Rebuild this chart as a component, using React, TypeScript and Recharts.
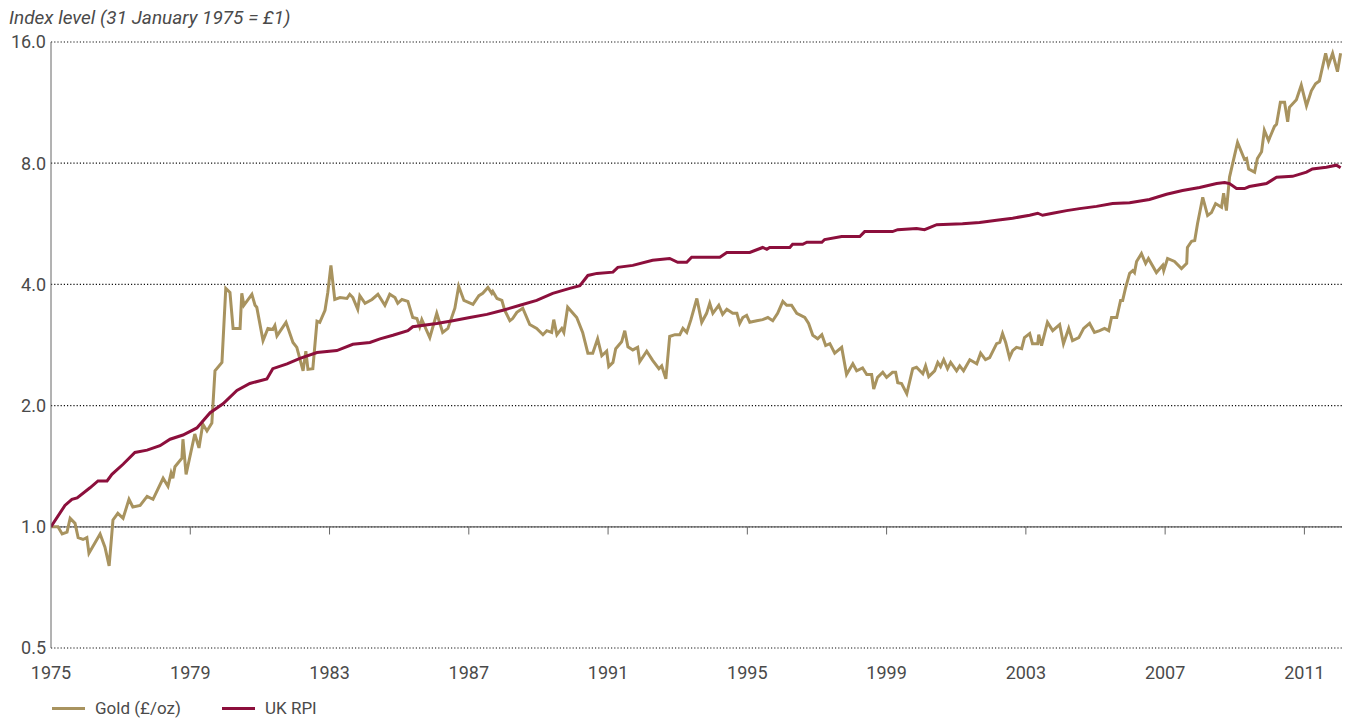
import React from "react";
import {
  LineChart,
  Line,
  XAxis,
  YAxis,
  CartesianGrid,
  ReferenceLine,
} from "recharts";

// Gold price index (£/oz)
const goldYears = [
  1975.0, 1975.2, 1975.32, 1975.46, 1975.55, 1975.69, 1975.78, 1975.92, 1976.03, 1976.09,
  1976.41, 1976.55, 1976.67, 1976.78, 1976.92, 1977.07, 1977.24, 1977.35, 1977.56, 1977.76,
  1977.93, 1978.22, 1978.36, 1978.45, 1978.5, 1978.56, 1978.76, 1978.79, 1978.88, 1979.13,
  1979.25, 1979.36, 1979.48, 1979.62, 1979.71, 1979.91, 1980.02, 1980.14, 1980.23, 1980.43,
  1980.48, 1980.54, 1980.77, 1980.86, 1980.91, 1981.09, 1981.23, 1981.37, 1981.43, 1981.49,
  1981.75, 1981.95, 1982.06, 1982.24, 1982.32, 1982.38, 1982.52, 1982.64, 1982.72, 1982.87,
  1982.95, 1983.04, 1983.15, 1983.3, 1983.5, 1983.58, 1983.67, 1983.81, 1983.87, 1984.02,
  1984.22, 1984.39, 1984.59, 1984.73, 1984.88, 1984.96, 1985.08, 1985.25, 1985.39, 1985.51,
  1985.59, 1985.65, 1985.88, 1986.08, 1986.25, 1986.4, 1986.6, 1986.71, 1986.86, 1987.12,
  1987.29, 1987.4, 1987.55, 1987.66, 1987.69, 1987.81, 1987.95, 1988.03, 1988.18, 1988.26,
  1988.38, 1988.55, 1988.75, 1988.95, 1989.13, 1989.24, 1989.38, 1989.44, 1989.53, 1989.67,
  1989.73, 1989.84, 1990.1, 1990.27, 1990.42, 1990.56, 1990.7, 1990.82, 1990.96, 1991.02,
  1991.14, 1991.22, 1991.39, 1991.48, 1991.57, 1991.71, 1991.85, 1991.91, 1992.11, 1992.28,
  1992.46, 1992.54, 1992.66, 1992.77, 1992.92, 1993.06, 1993.15, 1993.26, 1993.38, 1993.55,
  1993.69, 1993.83, 1993.92, 1994.01, 1994.18, 1994.29, 1994.41, 1994.58, 1994.7, 1994.78,
  1994.87, 1994.98, 1995.07, 1995.27, 1995.44, 1995.59, 1995.73, 1995.87, 1996.02, 1996.13,
  1996.27, 1996.42, 1996.65, 1996.76, 1996.88, 1997.02, 1997.14, 1997.25, 1997.37, 1997.51,
  1997.71, 1997.85, 1998.03, 1998.14, 1998.31, 1998.43, 1998.57, 1998.63, 1998.74, 1998.89,
  1999.0, 1999.17, 1999.26, 1999.32, 1999.43, 1999.58, 1999.75, 1999.86, 2000.04, 2000.12,
  2000.21, 2000.38, 2000.47, 2000.55, 2000.64, 2000.75, 2000.84, 2001.01, 2001.1, 2001.21,
  2001.39, 2001.59, 2001.7, 2001.84, 2001.96, 2002.16, 2002.25, 2002.33, 2002.42, 2002.53,
  2002.62, 2002.73, 2002.88, 2002.96, 2003.11, 2003.19, 2003.34, 2003.37, 2003.45, 2003.62,
  2003.77, 2003.97, 2004.08, 2004.23, 2004.34, 2004.52, 2004.66, 2004.83, 2004.97, 2005.12,
  2005.26, 2005.38, 2005.46, 2005.61, 2005.72, 2005.78, 2005.86, 2005.98, 2006.07, 2006.12,
  2006.18, 2006.32, 2006.44, 2006.52, 2006.75, 2006.93, 2006.96, 2007.07, 2007.27, 2007.47,
  2007.62, 2007.64, 2007.76, 2007.85, 2007.93, 2008.08, 2008.22, 2008.33, 2008.45, 2008.62,
  2008.68, 2008.76, 2008.85, 2009.08, 2009.28, 2009.34, 2009.4, 2009.57, 2009.65, 2009.77,
  2009.85, 2009.97, 2010.14, 2010.2, 2010.31, 2010.43, 2010.52, 2010.57, 2010.77, 2010.91,
  2011.06, 2011.2, 2011.32, 2011.43, 2011.61, 2011.69, 2011.81, 2011.95, 2012.04,
];
const goldValues = [
  1.0, 1.0, 0.96, 0.97, 1.05, 1.02, 0.94, 0.93, 0.94, 0.86,
  0.96, 0.89, 0.8, 1.04, 1.08, 1.05, 1.17, 1.12, 1.13, 1.19,
  1.17, 1.32, 1.26, 1.36, 1.32, 1.41, 1.48, 1.65, 1.35, 1.7,
  1.57, 1.8, 1.73, 1.81, 2.44, 2.56, 3.91, 3.82, 3.11, 3.11,
  3.8, 3.55, 3.78, 3.55, 3.51, 2.9, 3.11, 3.09, 3.16, 2.98,
  3.22, 2.87, 2.79, 2.44, 2.73, 2.46, 2.47, 3.24, 3.22, 3.45,
  3.82, 4.46, 3.67, 3.71, 3.69, 3.78, 3.71, 3.47, 3.75, 3.59,
  3.67, 3.78, 3.55, 3.78, 3.71, 3.59, 3.67, 3.63, 3.31, 3.29,
  3.14, 3.27, 2.95, 3.39, 3.04, 3.11, 3.49, 3.96, 3.65, 3.57,
  3.75, 3.8, 3.93, 3.8, 3.84, 3.69, 3.65, 3.45, 3.25, 3.29,
  3.41, 3.49, 3.18, 3.11, 3.0, 3.07, 3.04, 3.27, 3.0, 3.11,
  3.04, 3.51, 3.31, 3.04, 2.7, 2.7, 2.93, 2.66, 2.73, 2.5,
  2.56, 2.77, 2.88, 3.07, 2.8, 2.75, 2.79, 2.57, 2.73, 2.59,
  2.47, 2.51, 2.33, 2.97, 3.0, 3.0, 3.11, 3.04, 3.27, 3.69,
  3.22, 3.39, 3.59, 3.39, 3.55, 3.37, 3.47, 3.39, 3.39, 3.2,
  3.31, 3.35, 3.22, 3.25, 3.27, 3.31, 3.25, 3.39, 3.63, 3.55,
  3.55, 3.39, 3.31, 3.2, 2.99, 2.93, 3.0, 2.82, 2.85, 2.7,
  2.79, 2.39, 2.54, 2.44, 2.48, 2.39, 2.39, 2.2, 2.35, 2.42,
  2.35, 2.42, 2.42, 2.28, 2.27, 2.14, 2.47, 2.49, 2.4, 2.51,
  2.36, 2.44, 2.56, 2.5, 2.6, 2.47, 2.56, 2.44, 2.51, 2.44,
  2.6, 2.54, 2.7, 2.6, 2.63, 2.85, 2.87, 3.02, 2.87, 2.63,
  2.74, 2.79, 2.77, 2.95, 3.02, 2.85, 2.85, 3.0, 2.82, 3.22,
  3.07, 3.18, 2.85, 3.11, 2.9, 2.95, 3.11, 3.2, 3.04, 3.07,
  3.11, 3.07, 3.31, 3.31, 3.65, 3.65, 3.91, 4.26, 4.33, 4.28,
  4.56, 4.77, 4.51, 4.64, 4.28, 4.46, 4.33, 4.64, 4.56, 4.38,
  4.51, 4.94, 5.12, 5.14, 5.66, 6.58, 5.93, 6.03, 6.35, 6.22,
  6.74, 6.1, 7.39, 9.01, 8.17, 8.22, 7.74, 7.6, 8.22, 8.54,
  9.66, 9.11, 9.87, 9.99, 11.34, 11.34, 10.14, 11.01, 11.5, 12.5,
  11.1, 12.1, 12.6, 12.8, 15.0, 14.0, 15.0, 13.5, 15.0,
];

// UK retail prices index
const rpiYears = [
  1975.0, 1975.4, 1975.6, 1975.75, 1976.12, 1976.35, 1976.61, 1976.75, 1977.07, 1977.41,
  1977.76, 1978.13, 1978.42, 1978.79, 1979.19, 1979.57, 1979.94, 1980.34, 1980.71, 1981.2,
  1981.37, 1981.78, 1982.15, 1982.64, 1983.21, 1983.67, 1984.16, 1984.45, 1984.82, 1985.25,
  1985.39, 1986.08, 1986.54, 1987.03, 1987.52, 1987.98, 1988.47, 1988.95, 1989.41, 1989.9,
  1990.19, 1990.42, 1990.68, 1991.14, 1991.28, 1991.71, 1992.28, 1992.77, 1993.0, 1993.26,
  1993.4, 1993.63, 1994.21, 1994.41, 1994.58, 1995.07, 1995.44, 1995.56, 1995.64, 1996.22,
  1996.3, 1996.59, 1996.71, 1997.14, 1997.22, 1997.71, 1998.23, 1998.37, 1999.17, 1999.32,
  1999.86, 2000.09, 2000.44, 2001.18, 2001.67, 2002.16, 2002.62, 2003.11, 2003.34, 2003.48,
  2003.77, 2004.17, 2004.54, 2005.03, 2005.49, 2005.98, 2006.55, 2007.04, 2007.5, 2007.99,
  2008.48, 2008.71, 2008.85, 2009.05, 2009.28, 2009.42, 2009.91, 2010.2, 2010.66, 2011.06,
  2011.23, 2011.63, 2011.92, 2012.04,
];
const rpiValues = [
  1.0, 1.13, 1.17, 1.18, 1.25, 1.3, 1.3, 1.35, 1.43, 1.53,
  1.55, 1.59, 1.65, 1.69, 1.76, 1.92, 2.02, 2.18, 2.27, 2.33,
  2.47, 2.54, 2.62, 2.71, 2.74, 2.84, 2.87, 2.93, 2.99, 3.07,
  3.14, 3.2, 3.25, 3.31, 3.37, 3.45, 3.55, 3.65, 3.8, 3.91,
  3.97, 4.21, 4.26, 4.29, 4.41, 4.46, 4.59, 4.64, 4.54, 4.54,
  4.67, 4.67, 4.67, 4.8, 4.8, 4.8, 4.94, 4.89, 4.94, 4.94,
  5.03, 5.03, 5.09, 5.09, 5.17, 5.26, 5.26, 5.41, 5.41, 5.47,
  5.51, 5.47, 5.63, 5.66, 5.7, 5.77, 5.84, 5.94, 6.01, 5.94,
  6.01, 6.1, 6.17, 6.25, 6.35, 6.38, 6.5, 6.7, 6.84, 6.96,
  7.12, 7.16, 7.12, 6.92, 6.92, 7.0, 7.12, 7.38, 7.42, 7.6,
  7.74, 7.82, 7.91, 7.79,
];

const yearTicks = [1975, 1979, 1983, 1987, 1991, 1995, 1999, 2003, 2007, 2011];
const valueTicks = [0.5, 1, 2, 4, 8, 16];

const GOLD = "#a8935f";
const RPI = "#8c0f3c";
const TEXT = "#4a4a4a";
const FONT = "Roboto, 'Liberation Sans', Arial, sans-serif";

const goldData = goldYears.map((t, i) => ({ t, v: goldValues[i] }));
const rpiData = rpiYears.map((t, i) => ({ t, v: rpiValues[i] }));

function LegendItem({ color, label, width }: { color: string; label: string; width: number }) {
  return (
    <div style={{ display: "flex", alignItems: "center", width }}>
      <div style={{ width: 33, height: 3, background: color, marginRight: 10 }} />
      <span>{label}</span>
    </div>
  );
}

export default function App() {
  return (
    <div style={{ position: "relative", width: 1341, height: 710, fontFamily: FONT, color: TEXT }}>
      <div
        style={{
          position: "absolute",
          left: 1,
          top: -2,
          fontSize: 19,
          fontStyle: "italic",
          whiteSpace: "nowrap",
        }}
      >
        Index level (31 January 1975 = £1)
      </div>
      <LineChart
        width={1341}
        height={690}
        margin={{ top: 34, right: 7, left: 0, bottom: 20 }}
        style={{ fontFamily: FONT }}
      >
        <CartesianGrid
          vertical={false}
          horizontalValues={valueTicks}
          stroke="#111"
          strokeWidth={1.2}
          strokeDasharray="1.2 2"
        />
        <XAxis
          type="number"
          dataKey="t"
          domain={[1975, 2012.08]}
          ticks={yearTicks}
          allowDataOverflow
          axisLine={false}
          tickLine={false}
          tickSize={0}
          tickMargin={18}
          height={30}
          tick={{ fill: TEXT, fontSize: 18 }}
        />
        <YAxis
          type="number"
          scale="log"
          domain={[0.5, 16]}
          ticks={valueTicks}
          allowDataOverflow
          width={43}
          axisLine={{ stroke: "#666" }}
          tickLine={false}
          tickSize={0}
          tickMargin={5}
          tick={{ fill: TEXT, fontSize: 18 }}
          tickFormatter={(v: number) => v.toFixed(1)}
        />
        <ReferenceLine y={1} stroke="#666" strokeWidth={1.2} />
        {yearTicks.slice(1).map((yr) => (
          <ReferenceLine
            key={yr}
            segment={[
              { x: yr, y: 1 },
              { x: yr, y: 0.957 },
            ]}
            stroke="#666"
          />
        ))}
        <Line
          data={goldData}
          dataKey="v"
          type="linear"
          stroke={GOLD}
          strokeWidth={3}
          dot={false}
          activeDot={false}
          isAnimationActive={false}
        />
        <Line
          data={rpiData}
          dataKey="v"
          type="linear"
          stroke={RPI}
          strokeWidth={3}
          dot={false}
          activeDot={false}
          isAnimationActive={false}
        />
      </LineChart>
      <div style={{ display: "flex", fontSize: 17, marginLeft: 44, height: 20, alignItems: "center" }}>
        <LegendItem color={GOLD} label="Gold (£/oz)" width={170} />
        <LegendItem color={RPI} label="UK RPI" width={120} />
      </div>
    </div>
  );
}
